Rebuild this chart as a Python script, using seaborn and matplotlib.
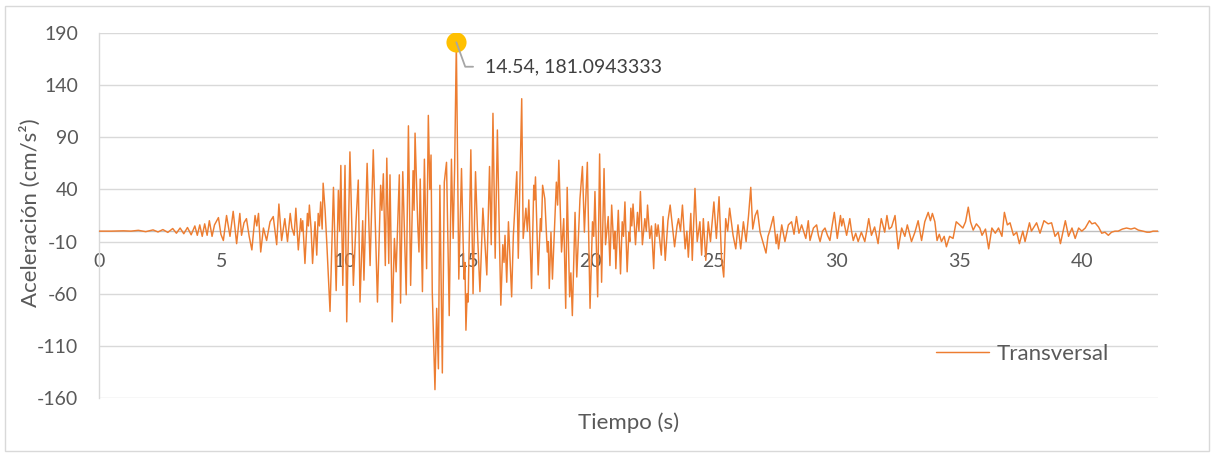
import matplotlib
matplotlib.use("Agg")
import matplotlib.pyplot as plt
import seaborn as sns
import pandas as pd
from matplotlib.patches import Rectangle

# ---- data (time in s, acceleration in cm/s^2) ----
time_s = [
    0.0, 0.5, 1.0, 1.3, 1.6, 1.9, 2.2, 2.4, 2.6, 2.8, 3.0, 3.15, 3.3, 3.45, 3.6, 3.75, 3.9, 4.0, 4.1, 4.2,
    4.3, 4.4, 4.49, 4.6, 4.7, 4.86, 4.96, 5.06, 5.19, 5.33, 5.46, 5.60, 5.73, 5.80, 5.90, 6.00, 6.11, 6.22,
    6.35, 6.42, 6.49, 6.58, 6.69, 6.82, 6.96, 7.09, 7.23, 7.32, 7.43, 7.56, 7.67, 7.78,
    7.85, 7.94, 8.01, 8.11, 8.21, 8.25, 8.29, 8.38, 8.48, 8.52, 8.56, 8.63, 8.69, 8.79, 8.86, 8.92, 8.97,
    9.02, 9.08, 9.12, 9.20, 9.27, 9.40, 9.54, 9.65, 9.74, 9.79, 9.84, 9.92, 10.01, 10.08, 10.21, 10.35,
    10.46, 10.55, 10.62, 10.73, 10.78, 10.91, 11.03, 11.16, 11.33, 11.46, 11.51, 11.57, 11.65,
    11.71, 11.79, 11.84, 11.93, 12.02, 12.09, 12.22, 12.27, 12.36, 12.50, 12.59, 12.68, 12.78, 12.82,
    12.86, 12.97, 13.02, 13.07, 13.16, 13.24, 13.33, 13.40, 13.46, 13.51, 13.56, 13.67, 13.74, 13.81,
    13.87, 13.97, 14.05, 14.14, 14.25, 14.34, 14.41, 14.47, 14.54, 14.64, 14.75, 14.85, 14.89, 14.93,
    14.98, 15.02, 15.13, 15.22, 15.32, 15.41, 15.50, 15.62,
    15.78, 15.89, 15.96, 16.03, 16.12, 16.21, 16.29, 16.35, 16.43, 16.48, 16.52, 16.59, 16.66, 16.79,
    16.86, 17.00, 17.06, 17.20, 17.26, 17.37, 17.43, 17.49, 17.60, 17.69, 17.72, 17.76, 17.87, 17.96,
    18.00, 18.05, 18.14, 18.24, 18.28, 18.32, 18.39, 18.45, 18.55, 18.61, 18.66, 18.71, 18.82, 18.91,
    18.99, 19.05, 19.15, 19.20, 19.26, 19.37, 19.44, 19.57,
    19.67, 19.75, 19.87, 19.98, 20.08, 20.13, 20.18, 20.29, 20.37, 20.45, 20.55, 20.61, 20.72, 20.79,
    20.86, 20.95, 20.99, 21.03, 21.13, 21.22, 21.29, 21.34, 21.40, 21.49, 21.56, 21.60, 21.64, 21.68,
    21.73, 21.83, 21.91, 21.97, 22.03, 22.11, 22.21, 22.27, 22.32, 22.41, 22.48, 22.57, 22.64, 22.70,
    22.75, 22.88, 22.95, 23.04, 23.15, 23.24,
    23.42, 23.52, 23.58, 23.66, 23.74, 23.85, 23.92, 23.98, 24.08, 24.14, 24.25, 24.34, 24.45, 24.52,
    24.59, 24.69, 24.79, 24.88, 25.02, 25.12, 25.23, 25.33, 25.42, 25.50, 25.58, 25.66, 25.80, 25.91,
    26.00, 26.11, 26.22, 26.33, 26.43, 26.52, 26.60, 26.70, 26.79, 26.90, 27.01, 27.14, 27.22, 27.30,
    27.44, 27.55, 27.60, 27.65, 27.78, 27.91, 28.05, 28.18, 28.28, 28.38, 28.48, 28.59, 28.76, 28.86,
    28.93, 29.07, 29.20, 29.27, 29.34, 29.44, 29.54, 29.64, 29.74, 29.83, 29.92, 30.04, 30.17, 30.22,
    30.28, 30.42, 30.55, 30.62, 30.69, 30.79, 30.89, 31.02, 31.16, 31.25, 31.32, 31.43, 31.56, 31.70,
    31.77, 31.83, 31.97, 32.06, 32.15, 32.25, 32.39, 32.52, 32.66, 32.79, 32.89, 33.06, 33.20, 33.33,
    33.47, 33.60, 33.74, 33.83, 33.91, 34.01, 34.10, 34.19, 34.28, 34.39, 34.48, 34.61, 34.75, 34.88,
    35.02, 35.15, 35.26, 35.37, 35.46, 35.57, 35.70, 35.84,
    35.93, 36.07, 36.20, 36.33, 36.47, 36.60, 36.74, 36.84, 36.96, 37.07, 37.21, 37.34, 37.45, 37.59,
    37.68, 37.86, 37.94, 38.02, 38.15, 38.29, 38.45, 38.62, 38.76, 38.90, 39.03, 39.12, 39.32, 39.45,
    39.59, 39.72, 39.86, 39.99, 40.13, 40.30, 40.40, 40.53, 40.67, 40.80, 40.93, 41.07, 41.20, 41.34,
    41.47, 41.64, 41.81, 41.99, 42.14, 42.29, 42.48, 42.64, 42.75, 42.89, 43.09,
]

accel = [
    0, 0, 0.3, 0, 0.8, -0.5, 1.2, -0.8, 1.5, -1.2, 2.5, -2, 3, -2.5, 3.5, -3.5, 5, -4, 6, -5,
    7, -4, 10, -5, 6, 13, -3, -9, 15, -5, 19, -12, 17, -4, 8, 12, -5, -18,
    15, 5, 17, -20, 3, -9, 9, 14, -13, 26, -9, 12, -10, 17,
    3, -4, 22, -18, 12, 0, 10, -31, 17, 5, 25, 2, -31, 9, -23, 17, 5,
    28, 2, 46, 20, -12, -77, 42, -57, 39, 0, 63, -52, 63, -87, 76, -52,
    10, 49, -68, 10, -47, 65, -33, 78, -68, 44, 20, 55, -33,
    70, -31, 54, -87, -7, -39, 54, -69, 57, -61, 101, -52, 58, 20,
    94, 6, -20, 50, -58, 69, -36, 111, 40, 73, -58, -152, -74, -132,
    44, -136, 47, 66, -81, 69, -7, 60, 181.0943333, -46, 60, -46, -30, -95,
    -60, -68, 78, -60, 57, -7, -58, 22,
    -42, 62, -13, 113, -26, 97, -4, -71, -13, -30, -4, -49, 9, -63,
    -4, 57, -26, 127, -7, 22, 0, 30, -55, 44, 30, 52, -42, 12,
    0, 44, 31, -20, -10, -55, -1, -46, 12, 47, 25, 68, -20, 12,
    -74, 42, -63, -40, -81, 18, -44, 31,
    62, -1, 66, -74, 9, -5, 38, -63, 74, -49, 60, -13, 14, -33,
    25, -17, 0, -36, 20, -41, 9, -5, 28, -39, -1, -10, 22, 5,
    26, -13, 18, 0, 38, -13, 12, 0, 25, -7, 5, -36, 7, -5,
    6, -23, 14, -28, 10, 25,
    -15, 5, 12, 0, 25, -17, 0, -25, 17, -28, 41, -10, 9, -23,
    12, -28, 9, -10, 28, -7, 33, -26, -44, 12, 0, 22, -4, -17,
    6, -17, 9, -10, 15, 42, 2, 15, 20, -1, -10, -21, -5, 1,
    14, -12, -3, -17, 6, -10, 6, 9, -3, 14, -2, 6, -7, 10,
    -9, 3, 6, -4, -10, 0, 3, -4, -9, 5, 18, -7, 15, 5,
    12, -4, 12, 0, -9, -2, -10, -1, -10, 2, 12, -4, 4, -12,
    2, 12, -1, 15, 2, 4, 15, -17, 3, -5, 6, -10, -1, 10,
    -9, 9, 18, 10, 17, 9, -9, -3, -10, -5, -15, -5, -7, 9,
    6, 3, 9, 23, 9, 1, 7, 3,
    -4, 2, -17, 3, -2, 3, -5, 18, 6, 8, -4, -1, -12, 0,
    -10, 8, 0, 3, 8, -2, 10, 7, 8, -5, -1, -12, 10, -5,
    3, -7, 3, 0, 3, 10, 7, 8, 4, -2, -1, -4, -1, 0,
    0, 2, 3, 2, 3, 1, 0, -1, -1, 0, 0,
]

x_ticks = [0, 5, 10, 15, 20, 25, 30, 35, 40]
y_ticks = [-160, -110, -60, -10, 40, 90, 140, 190]
series_name = "Transversal"
x_title = "Tiempo (s)"
y_title = "Aceleración (cm/s²)"
peak_time = 14.54
peak_value = 181.0943333

# ---- style ----
sns.set_theme(style="white")
plt.rcParams["font.family"] = ["Lato", "DejaVu Sans"]
plt.rcParams["axes.unicode_minus"] = False

W, H = 1214, 457
fig = plt.figure(figsize=(W / 100, H / 100), dpi=100)
fig.patch.set_facecolor("white")
fig.patches.append(Rectangle((5 / W, 6 / H), 1204 / W, 445 / H, transform=fig.transFigure,
                             fill=False, edgecolor="#D9D9D9", lw=1.0))

ax = fig.add_axes([99 / W, 1 - 398 / H, (1158 - 99) / W, (398 - 33) / H])

df = pd.DataFrame({"Tiempo": time_s, "Aceleracion": accel})
sns.lineplot(data=df, x="Tiempo", y="Aceleracion", ax=ax, color="#ED7D31", lw=1.05,
             estimator=None, sort=False, label=series_name, zorder=3)

ax.set_xlim(0, 43.09)
ax.set_ylim(-160, 190)
ax.set_xticks(x_ticks)
ax.set_yticks(y_ticks)
ax.set_xlabel("")
ax.set_ylabel("")
ax.grid(axis="y", color="#D9D9D9", lw=1.0)
ax.grid(axis="x", visible=False)
ax.set_axisbelow(True)
for s in ["top", "right"]:
    ax.spines[s].set_visible(False)
ax.spines["bottom"].set_position(("data", 0))
ax.spines["bottom"].set_color("#BFBFBF")
ax.spines["bottom"].set_linewidth(1.0)
ax.spines["left"].set_color("#D9D9D9")
ax.spines["left"].set_linewidth(1.0)
ax.tick_params(axis="both", length=0, labelsize=14, labelcolor="#595959")
ax.tick_params(axis="y", pad=15)
ax.tick_params(axis="x", pad=16)

# peak marker + data label
ax.scatter([peak_time], [peak_value], s=210, color="#FFC000", zorder=5, linewidths=0)
ax.annotate(f"{peak_time}, {peak_value}", xy=(peak_time, peak_value),
            xytext=(20.4, -17.6), textcoords="offset points", ha="left", va="center",
            fontsize=14, color="#404040", zorder=6,
            arrowprops=dict(arrowstyle="-", color="#A6A6A6", lw=1.3, shrinkA=6, shrinkB=0,
                            relpos=(0, 0.5),
                            connectionstyle="angle,angleA=0,angleB=-70,rad=0"))

# axis titles
fig.text(628.5 / W, 1 - 423 / H, x_title, ha="center", va="center", fontsize=16, color="#595959")
fig.text(30 / W, 1 - 213 / H, y_title, ha="center", va="center", rotation=90,
         fontsize=16, color="#595959")

# legend
leg = ax.legend(loc="center left", bbox_to_anchor=(936 / W, 1 - 354 / H),
                bbox_transform=fig.transFigure, frameon=False, fontsize=16,
                handlelength=2.4, handletextpad=0.35, borderpad=0, borderaxespad=0)
for t in leg.get_texts():
    t.set_color("#595959")

fig.savefig("out.png", dpi=100, facecolor="white")
